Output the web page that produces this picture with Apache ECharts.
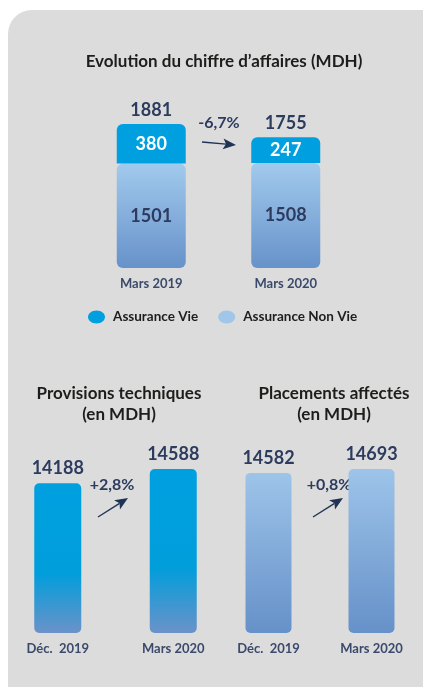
<!DOCTYPE html>
<html>
<head>
<meta charset="utf-8">
<script src="https://cdn.jsdelivr.net/npm/echarts@6/dist/echarts.min.js"></script>
<style>
  html, body { margin: 0; padding: 0; background: #fff; overflow: hidden; }
  .panel {
    position: absolute; left: 8px; top: 10px;
    width: 440px; height: 700px;
    background: #dcdcdc; border-radius: 24px;
  }
  #chart { position: absolute; left: 0; top: 0; width: 423px; height: 687px; }
</style>
</head>
<body>
<div class="panel"></div>
<div id="chart"></div>
<script>
// chiffre d'affaires (MDH)
const caCategories = ['Mars 2019', 'Mars 2020']
const caVie = [380, 247]
const caNonVie = [1501, 1508]
const caTotal = [1881, 1755]
const caEvolution = '-6,7%'

// provisions techniques (MDH)
const provCategories = ['Déc.  2019', 'Mars 2020']
const provValues = [14188, 14588]
const provEvolution = '+2,8%'

// placements affectés (MDH)
const placCategories = ['Déc.  2019', 'Mars 2020']
const placValues = [14582, 14693]
const placEvolution = '+0,8%'

const FONT = 'Lato'
const NAVY = '#2c3b5e'
const CYAN = '#00a0e0'

const chart = echarts.init(document.getElementById('chart'))

function grad(stops) {
  return new echarts.graphic.LinearGradient(0, 0, 0, 1, stops.map((c) => ({ offset: c[0], color: c[1] })))
}
const nonVieColor = () => grad([[0, '#a2caed'], [1, '#6792ca']])
const provColor = () => grad([[0, '#00a0e0'], [0.6, '#009edb'], [1, '#6b92c9']])
const placColor = () => grad([[0, '#9dc4e9'], [1, '#6691c9']])

// flèche d'évolution
function arrow(x1, y1, x2, y2) {
  const a = Math.atan2(y2 - y1, x2 - x1)
  const cos = Math.cos(a)
  const sin = Math.sin(a)
  const bx = x2 - 13 * cos
  const by = y2 - 13 * sin
  const px = -sin * 5.5
  const py = cos * 5.5
  return [
    { type: 'line', shape: { x1, y1, x2: bx + 3 * cos, y2: by + 3 * sin }, style: { stroke: '#1f3355', lineWidth: 1.4 } },
    {
      type: 'polygon',
      shape: { points: [[x2, y2], [bx + px, by + py], [bx + 3 * cos, by + 3 * sin], [bx - px, by - py]] },
      style: { fill: '#1f3355' }
    }
  ]
}
function pct(text, x, y) {
  return {
    type: 'text', x, y,
    style: { text, fill: NAVY, font: 'bold 16px ' + FONT, textAlign: 'center', textVerticalAlign: 'middle' }
  }
}

const catAxis = (idx, data) => ({
  type: 'category',
  gridIndex: idx,
  data,
  axisLine: { show: false },
  axisTick: { show: false },
  axisLabel: { color: '#3b4a6b', fontFamily: FONT, fontWeight: 'bold', fontSize: 13, margin: 9 }
})
const valAxis = (idx, min, max) => ({ type: 'value', gridIndex: idx, min, max, show: false, splitLine: { show: false } })

const numLabel = (pos, color, dist) => ({
  show: true, position: pos, distance: dist || 5,
  color, fontFamily: FONT, fontWeight: 'bold', fontSize: 18
})

const titleStyle = { fontFamily: FONT, fontSize: 17, fontWeight: 'bold', color: '#1d1d1b', lineHeight: 21 }

chart.setOption({
  animation: false,
  textStyle: { fontFamily: FONT },
  title: [
    { text: 'Evolution du chiffre d’affaires (MDH)', left: 219, top: 46, textAlign: 'center', textStyle: titleStyle },
    { text: 'Provisions techniques\n(en MDH)', left: 114, top: 378, textAlign: 'center', textStyle: titleStyle },
    { text: 'Placements affectés\n(en MDH)', left: 329, top: 378, textAlign: 'center', textStyle: titleStyle }
  ],
  legend: {
    left: 83, top: 305,
    icon: 'path://M8.5,0 C13.2,0 17,2.9 17,6.5 C17,10.1 13.2,13 8.5,13 C3.8,13 0,10.1 0,6.5 C0,2.9 3.8,0 8.5,0Z',
    itemWidth: 17, itemHeight: 13, itemGap: 20,
    textStyle: { fontFamily: FONT, fontWeight: 'bold', fontSize: 13.5, color: '#1d1d1b', padding: [0, 0, 0, 3] },
    data: [
      { name: 'Assurance Vie', itemStyle: { color: CYAN } },
      { name: 'Assurance Non Vie', itemStyle: { color: '#a0c6ea' } }
    ]
  },
  grid: [
    { left: 84, width: 269, top: 124, height: 144 },
    { left: -3, width: 234, top: 469, height: 164 },
    { left: 217, width: 224, top: 469, height: 164 }
  ],
  xAxis: [catAxis(0, caCategories), catAxis(1, provCategories), catAxis(2, placCategories)],
  yAxis: [
    valAxis(0, 500, Math.max(...caTotal)),
    valAxis(1, 10000, Math.max(...provValues)),
    valAxis(2, 10000, Math.max(...placValues))
  ],
  series: [
    {
      name: 'Assurance Non Vie', type: 'bar', stack: 'ca', xAxisIndex: 0, yAxisIndex: 0,
      barWidth: 69, barGap: '-100%', data: caNonVie,
      itemStyle: { color: nonVieColor(), borderRadius: 6 },
      label: numLabel('inside', NAVY)
    },
    {
      name: 'Assurance Vie', type: 'bar', stack: 'ca', xAxisIndex: 0, yAxisIndex: 0,
      barWidth: 69, barGap: '-100%', data: caVie,
      itemStyle: { color: CYAN, borderRadius: [6, 6, 0, 0] },
      label: numLabel('inside', '#ffffff')
    },
    {
      name: 'Total', type: 'bar', xAxisIndex: 0, yAxisIndex: 0,
      barWidth: 69, barGap: '-100%', data: caTotal, z: 1,
      itemStyle: { color: 'transparent' },
      label: numLabel('top', NAVY, 5)
    },
    {
      name: 'Provisions techniques', type: 'bar', xAxisIndex: 1, yAxisIndex: 1,
      barWidth: 47, data: provValues,
      itemStyle: { color: provColor(), borderRadius: 5 },
      label: numLabel('top', NAVY, 6)
    },
    {
      name: 'Placements affectés', type: 'bar', xAxisIndex: 2, yAxisIndex: 2,
      barWidth: 46, data: placValues,
      itemStyle: { color: placColor(), borderRadius: 5 },
      label: numLabel('top', NAVY, 6)
    }
  ],
  graphic: [
    pct(caEvolution, 219, 123),
    ...arrow(202, 142, 236, 145),
    pct(provEvolution, 112, 485),
    ...arrow(98, 517, 128, 498),
    pct(placEvolution, 329, 485),
    ...arrow(313, 517, 343, 498)
  ]
})
</script>
</body>
</html>
